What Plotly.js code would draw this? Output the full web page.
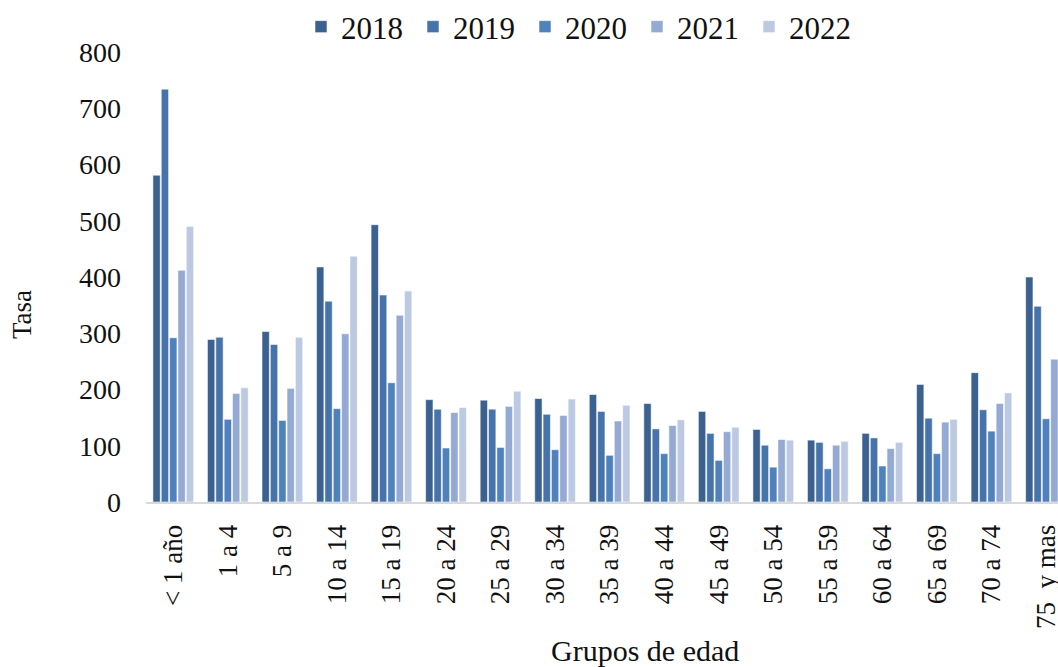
<!DOCTYPE html>
<html>
<head>
<meta charset="utf-8">
<script src="https://cdn.plot.ly/plotly-3.0.1.min.js"></script>
<style>html,body{margin:0;padding:0;background:#fff;}#chart{width:1058px;height:667px;}</style>
</head>
<body>
<div id="chart"></div>
<script>
var categories = ["< 1 año","1 a 4","5 a 9","10 a 14","15 a 19","20 a 24","25 a 29","30 a 34","35 a 39","40 a 44","45 a 49","50 a 54","55 a 59","60 a 64","65 a 69","70 a 74","75\u00a0 y mas"];
var years = ["2018","2019","2020","2021","2022"];
var v2018 = [581,289,303,418,493,182,181,184,191,175,161,129,110,122,209,230,400];
var v2019 = [734,293,280,357,368,165,165,156,161,130,122,101,106,114,149,164,348];
var v2020 = [292,147,145,166,212,96,97,93,83,86,74,62,59,64,86,126,148];
var v2021 = [412,193,202,299,332,159,170,154,144,136,125,111,101,95,142,175,254];
var v2022 = [490,203,293,437,375,168,197,183,172,146,133,110,108,106,147,194,300];
var yTicks = [0,100,200,300,400,500,600,700,800];
var colors = ["#3B6190","#4673A9","#4F81BD","#94AAD2","#BCC9E2"];

var series = [v2018, v2019, v2020, v2021, v2022];
var traces = series.map(function(vals, i){
  return {
    type: "bar",
    name: years[i],
    x: categories,
    y: vals,
    marker: {color: colors[i], line: {color: "rgba(255,255,255,0.55)", width: 1}},
    hoverinfo: "x+y+name"
  };
});

var font = "'Liberation Serif', 'DejaVu Serif', serif";
var layout = {
  width: 1058, height: 667,
  margin: {l: 146, r: 0, t: 52, b: 165, pad: 0},
  paper_bgcolor: "#ffffff", plot_bgcolor: "#ffffff",
  barmode: "group",
  bargap: 0.235,
  bargroupgap: 0.12,
  font: {family: font, color: "#111111", size: 26},
  showlegend: true,
  legend: {
    orientation: "h",
    x: 0.477, xanchor: "center",
    y: 1.056, yanchor: "middle",
    font: {family: font, size: 31, color: "#111111"},
    entrywidth: 67,
    traceorder: "normal"
  },
  xaxis: {
    type: "category",
    range: [-0.5, 16.22],
    showline: true, linecolor: "#d9d9d9", linewidth: 2,
    showgrid: false, zeroline: false,
    ticks: "", tickangle: -90,
    ticklabelstandoff: 10,
    tickfont: {family: font, size: 27, color: "#111111"},
    fixedrange: true
  },
  yaxis: {
    range: [0, 800],
    tickvals: yTicks,
    ticktext: yTicks.map(String),
    showline: false, showgrid: false, zeroline: false,
    ticks: "",
    ticklabelstandoff: 24,
    tickfont: {family: font, size: 28, color: "#111111"},
    fixedrange: true
  },
  annotations: [
    {text: "Grupos de edad", xref: "paper", yref: "paper",
     x: (645-146)/912, y: -(650-502)/450, xanchor: "center", yanchor: "middle",
     showarrow: false, font: {family: font, size: 30, color: "#111111"}},
    {text: "Tasa", xref: "paper", yref: "paper",
     x: -(146-22)/912, y: (502-315)/450, xanchor: "center", yanchor: "middle",
     textangle: -90, showarrow: false, font: {family: font, size: 27, color: "#111111"}}
  ]
};

Plotly.newPlot("chart", traces, layout, {displayModeBar: false, staticPlot: true});
</script>
</body>
</html>
